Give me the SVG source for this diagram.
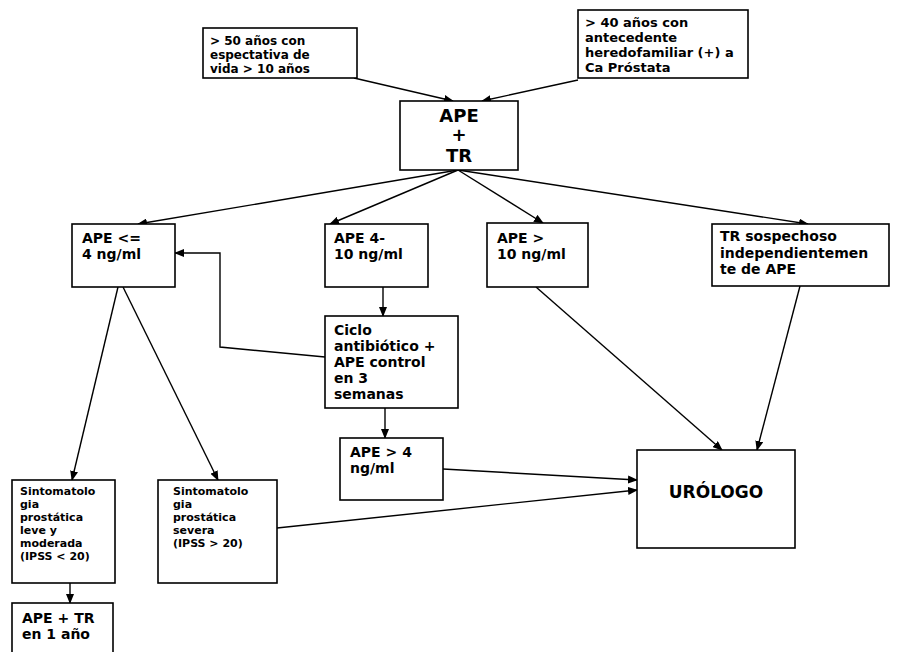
<svg xmlns="http://www.w3.org/2000/svg" width="902" height="652" viewBox="0 0 902 652">
<style>
.box{fill:#fff;stroke:#000;stroke-width:1.6}
.t{font-family:"DejaVu Sans","Liberation Sans",sans-serif;font-weight:bold;fill:#000}
.s{font-size:11px}
.c{fill:none;stroke:#000;stroke-width:1.4}
</style>
<defs>
<marker id="ah" markerUnits="userSpaceOnUse" markerWidth="10" markerHeight="8" refX="9" refY="4" orient="auto">
<path d="M0,0 L10,4 L0,8 Z" fill="#000"/>
</marker>
</defs>
<rect width="902" height="652" fill="#fff"/>
<g id="connectors">
<line class="c" x1="354" y1="78" x2="453" y2="101" marker-end="url(#ah)"/>
<line class="c" x1="578" y1="80" x2="482" y2="101" marker-end="url(#ah)"/>
<line class="c" x1="458" y1="170" x2="138" y2="224" marker-end="url(#ah)"/>
<line class="c" x1="458" y1="170" x2="330" y2="224" marker-end="url(#ah)"/>
<line class="c" x1="458" y1="170" x2="543" y2="223" marker-end="url(#ah)"/>
<line class="c" x1="458" y1="170" x2="808" y2="224" marker-end="url(#ah)"/>
<line class="c" x1="383" y1="287" x2="383" y2="316" marker-end="url(#ah)"/>
<polyline class="c" points="325,357 220,347 220,253 175,253" marker-end="url(#ah)"/>
<line class="c" x1="385" y1="408" x2="385" y2="438" marker-end="url(#ah)"/>
<line class="c" x1="443" y1="469" x2="637" y2="480" marker-end="url(#ah)"/>
<line class="c" x1="277" y1="528" x2="637" y2="490" marker-end="url(#ah)"/>
<line class="c" x1="536" y1="287" x2="722" y2="450" marker-end="url(#ah)"/>
<line class="c" x1="800" y1="286" x2="757" y2="450" marker-end="url(#ah)"/>
<line class="c" x1="118" y1="287" x2="72" y2="480" marker-end="url(#ah)"/>
<line class="c" x1="123" y1="287" x2="218" y2="480" marker-end="url(#ah)"/>
<line class="c" x1="70" y1="583" x2="70" y2="603" marker-end="url(#ah)"/>
</g>
<g id="n1">
<rect class="box" x="203" y="28" width="154" height="50"/>
<text class="t" font-size="12" x="210" y="45">&gt; 50 años con</text>
<text class="t" font-size="12" x="210" y="59">espectativa de</text>
<text class="t" font-size="12" x="210" y="73">vida &gt; 10 años</text>
</g>
<g id="n2">
<rect class="box" x="578" y="10" width="170" height="68"/>
<text class="t" font-size="13" x="585" y="27">&gt; 40 años con</text>
<text class="t" font-size="13" x="585" y="42">antecedente</text>
<text class="t" font-size="13" x="585" y="57">heredofamiliar (+) a</text>
<text class="t" font-size="13" x="585" y="72">Ca Próstata</text>
</g>
<g id="n3">
<rect class="box" x="400" y="101" width="118" height="69"/>
<text class="t" font-size="18" x="459" y="122" text-anchor="middle">APE</text>
<text class="t" font-size="18" x="459" y="141" text-anchor="middle">+</text>
<text class="t" font-size="18" x="459" y="162" text-anchor="middle">TR</text>
</g>
<g id="n4">
<rect class="box" x="72" y="224" width="103" height="63"/>
<text class="t" font-size="14" x="82" y="243">APE &lt;=</text>
<text class="t" font-size="14" x="82" y="259">4 ng/ml</text>
</g>
<g id="n5">
<rect class="box" x="325" y="224" width="103" height="63"/>
<text class="t" font-size="14" x="334" y="243">APE 4-</text>
<text class="t" font-size="14" x="334" y="259">10 ng/ml</text>
</g>
<g id="n6">
<rect class="box" x="487" y="223" width="101" height="64"/>
<text class="t" font-size="14" x="497" y="243">APE &gt;</text>
<text class="t" font-size="14" x="497" y="259">10 ng/ml</text>
</g>
<g id="n7">
<rect class="box" x="712" y="224" width="177" height="62"/>
<text class="t" font-size="14" x="720" y="241">TR sospechoso</text>
<text class="t" font-size="14" x="720" y="257.5">independientemen</text>
<text class="t" font-size="14" x="720" y="274">te de APE</text>
</g>
<g id="n8">
<rect class="box" x="325" y="316" width="133" height="92"/>
<text class="t" font-size="14" x="334" y="335">Ciclo</text>
<text class="t" font-size="14" x="334" y="351">antibiótico +</text>
<text class="t" font-size="14" x="334" y="367">APE control</text>
<text class="t" font-size="14" x="334" y="383">en 3</text>
<text class="t" font-size="14" x="334" y="399">semanas</text>
</g>
<g id="n9">
<rect class="box" x="340" y="438" width="103" height="62"/>
<text class="t" font-size="14" x="350" y="457">APE &gt; 4</text>
<text class="t" font-size="14" x="350" y="473">ng/ml</text>
</g>
<g id="n10">
<rect class="box" x="12" y="480" width="103" height="103"/>
<text class="t s" x="20" y="495">Sintomatolo</text>
<text class="t s" x="20" y="508">gia</text>
<text class="t s" x="20" y="521">prostática</text>
<text class="t s" x="20" y="534">leve y</text>
<text class="t s" x="20" y="547">moderada</text>
<text class="t s" x="20" y="560">(IPSS &lt; 20)</text>
</g>
<g id="n11">
<rect class="box" x="158" y="480" width="119" height="103"/>
<text class="t s" x="173" y="495">Sintomatolo</text>
<text class="t s" x="173" y="508">gia</text>
<text class="t s" x="173" y="521">prostática</text>
<text class="t s" x="173" y="534">severa</text>
<text class="t s" x="173" y="547">(IPSS &gt; 20)</text>
</g>
<g id="n12">
<rect class="box" x="12" y="603" width="101" height="60"/>
<text class="t" font-size="14" x="22" y="623">APE + TR</text>
<text class="t" font-size="14" x="22" y="639">en 1 año</text>
</g>
<g id="n13">
<rect class="box" x="637" y="450" width="158" height="98"/>
<text class="t" font-size="17" x="716" y="498" text-anchor="middle">URÓLOGO</text>
</g>
</svg>
